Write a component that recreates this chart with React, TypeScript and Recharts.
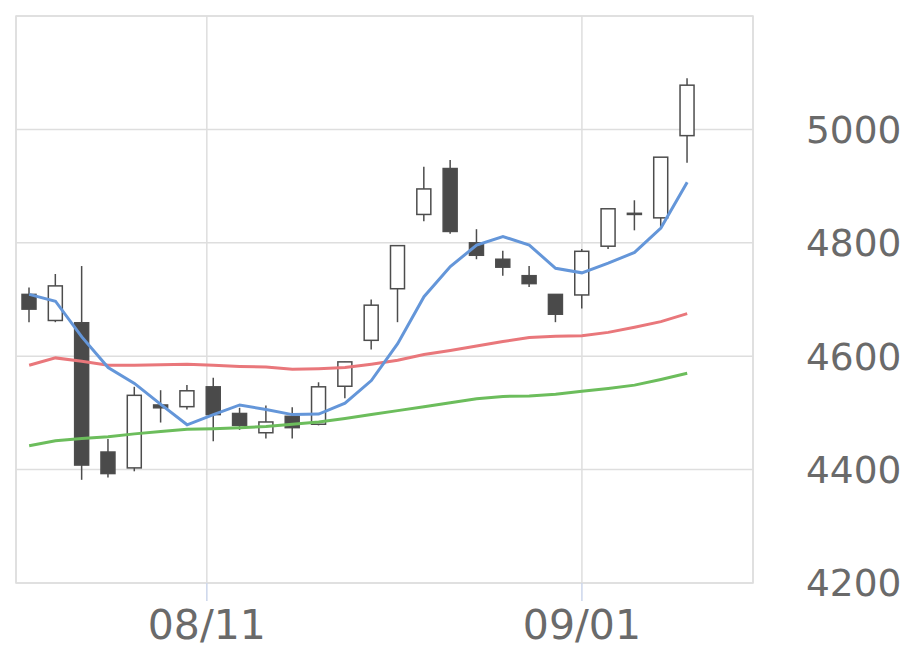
import React from 'react';
import { ComposedChart, Bar, Line, XAxis, YAxis, CartesianGrid, ReferenceArea } from 'recharts';

const dates = ['08/02','08/03','08/04','08/05','08/08','08/09','08/10','08/12','08/15','08/16','08/17','08/18','08/19','08/22','08/23','08/24','08/25','08/26','08/29','08/30','08/31','09/01','09/02','09/05','09/06','09/07'];
const opens = [4709,4663,4659,4431,4403,4514,4511,4546,4499,4465,4494,4480,4547,4628,4719,4850,4931,4800,4771,4742,4709,4708,4794,4852,4844,4989];
const highs = [4721,4745,4759,4454,4546,4540,4549,4562,4509,4513,4510,4554,4590,4700,4795,4934,4946,4824,4786,4759,4709,4789,4860,4875,4951,5090];
const lows = [4660,4660,4382,4386,4397,4483,4506,4450,4470,4455,4455,4478,4526,4612,4660,4838,4816,4771,4742,4722,4660,4684,4789,4822,4826,4941];
const closes = [4683,4724,4408,4393,4531,4509,4539,4497,4478,4484,4474,4546,4590,4690,4795,4895,4820,4778,4757,4728,4674,4785,4860,4850,4951,5078];
const ma5 = [4709,4697,4634,4580,4552,4515,4479,4497,4514,4506,4497,4498,4517,4557,4622,4705,4758,4796,4811,4796,4755,4747,4764,4783,4826,4907];
const ma25 = [4584,4597,4591,4584,4584,4585,4586,4584,4582,4581,4577,4578,4580,4586,4593,4603,4610,4618,4626,4633,4635,4636,4642,4651,4661,4675];
const ma75 = [4442,4451,4455,4458,4463,4467,4471,4472,4474,4476,4480,4484,4490,4497,4504,4511,4518,4525,4529,4530,4533,4538,4543,4549,4559,4570];

const xTickValues = [6.75, 21];
const xTickLabels = ['08/11', '09/01'];
const yTicks = [4200, 4400, 4600, 4800, 5000];
const yDomain = [4200, 5200];

const data = dates.map((d, i) => ({
  i,
  date: d,
  open: opens[i],
  high: highs[i],
  low: lows[i],
  close: closes[i],
  range: [lows[i], highs[i]],
  ma5: ma5[i],
  ma25: ma25[i],
  ma75: ma75[i],
}));

const Candle = (props: any) => {
  const { x, y, width, height, payload } = props;
  if (x == null || y == null || !payload) return null;
  const top = Math.min(y, y + height);
  const bottom = Math.max(y, y + height);
  const { open, close, high, low } = payload;
  const span = high - low || 1;
  const px = (v: number) => top + ((high - v) / span) * (bottom - top);
  const cx = x + width / 2;
  const up = close >= open;
  const bTop = px(Math.max(open, close));
  const bBot = px(Math.min(open, close));
  const bw = 14;
  return (
    <g>
      <line x1={cx} x2={cx} y1={top} y2={bottom} stroke="#4d4d4d" strokeWidth={1.5} />
      <rect
        x={cx - bw / 2}
        y={bTop}
        width={bw}
        height={Math.max(bBot - bTop, 1)}
        fill={up ? '#ffffff' : '#4a4a4a'}
        stroke="#4d4d4d"
        strokeWidth={1.5}
      />
    </g>
  );
};

export default function App() {
  return (
    <ComposedChart
      width={904}
      height={653}
      data={data}
      margin={{ top: 8, left: 8, right: 9, bottom: 18 }}
      style={{ fontFamily: '"DejaVu Sans", sans-serif' }}
    >
      <CartesianGrid stroke="#dedede" strokeWidth={1.5} />
      <ReferenceArea x1={-0.5} x2={27.5} y1={4200} y2={5200} fill="none" stroke="#dedede" strokeWidth={1.5} ifOverflow="visible" />
      <XAxis
        dataKey="i"
        type="number"
        domain={[-0.5, 27.5]}
        ticks={xTickValues}
        tickFormatter={(v: number) => xTickLabels[xTickValues.indexOf(v)] ?? ''}
        axisLine={false}
        tickLine={{ stroke: '#ccd6eb', strokeWidth: 1.5 }}
        tickSize={18}
        tickMargin={9}
        height={60}
        tick={{ fill: '#6a6a6a', fontSize: 41 }}
        allowDataOverflow
      />
      <YAxis
        orientation="right"
        domain={yDomain}
        ticks={yTicks}
        axisLine={false}
        tickLine={false}
        tickSize={0}
        tickMargin={53}
        width={150}
        tick={{ fill: '#6a6a6a', fontSize: 37.5 }}
        allowDataOverflow
      />
      <Bar dataKey="range" barSize={14} shape={<Candle />} isAnimationActive={false} />
      <Line dataKey="ma75" type="linear" stroke="#6cbd5c" strokeWidth={3} dot={false} isAnimationActive={false} />
      <Line dataKey="ma25" type="linear" stroke="#e9777b" strokeWidth={3} dot={false} isAnimationActive={false} />
      <Line dataKey="ma5" type="linear" stroke="#6496d9" strokeWidth={3} dot={false} isAnimationActive={false} />
    </ComposedChart>
  );
}
